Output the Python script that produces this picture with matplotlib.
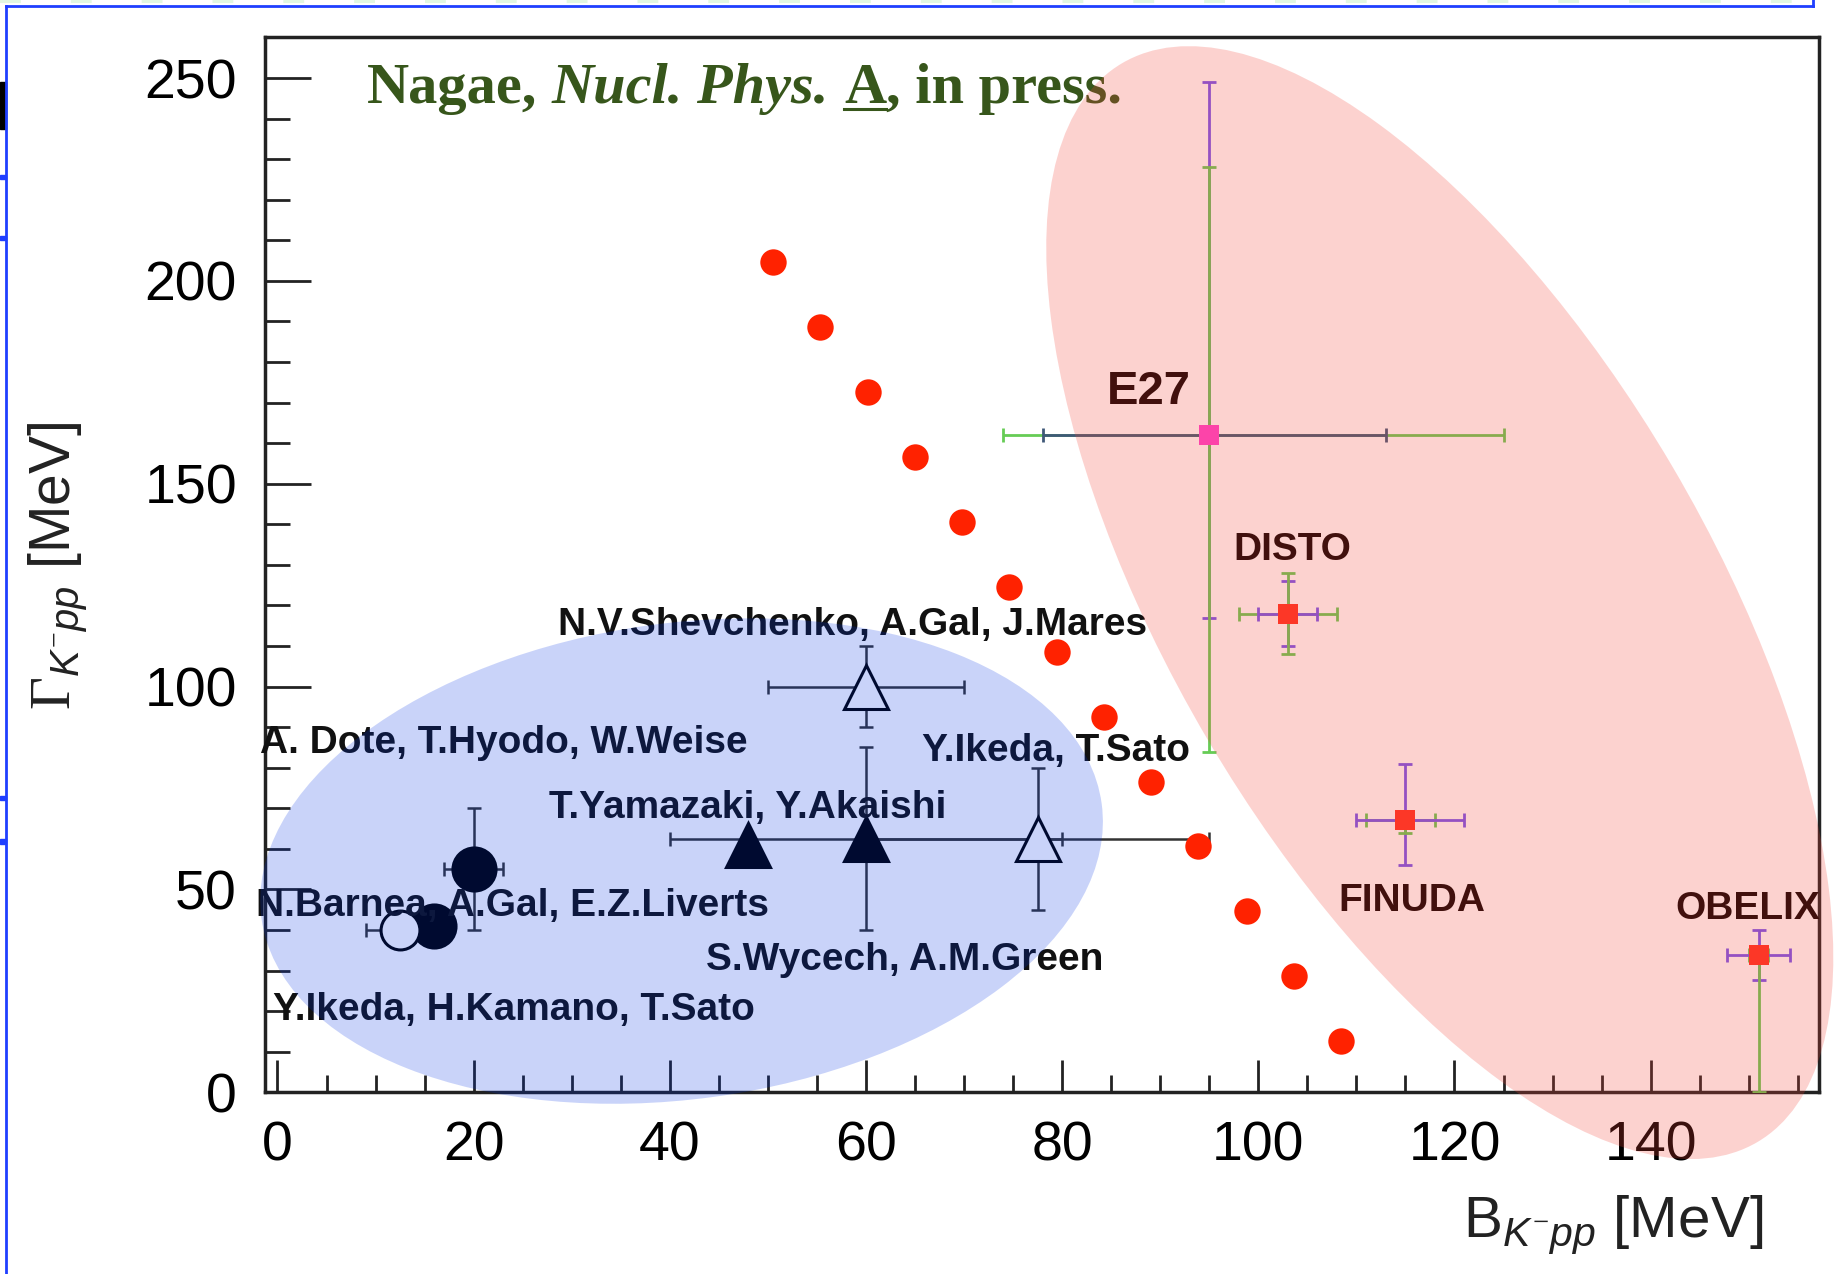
import matplotlib
matplotlib.use('Agg')
import matplotlib.pyplot as plt
from matplotlib.patches import Ellipse, Rectangle
from matplotlib.lines import Line2D
from matplotlib.transforms import Affine2D, IdentityTransform
from matplotlib.ticker import MultipleLocator

plt.rcParams['font.family'] = 'Liberation Sans'
plt.rcParams['mathtext.fontset'] = 'custom'
plt.rcParams['mathtext.rm'] = 'Liberation Serif'
plt.rcParams['mathtext.it'] = 'Liberation Sans:italic'

# red dots running diagonally across the plot
dot_b = [50.5, 55.3, 60.2, 65.0, 69.8, 74.6, 79.5, 84.3, 89.1, 93.9, 98.8, 103.6, 108.4]
dot_g = [204.6, 188.6, 172.6, 156.6, 140.6, 124.6, 108.6, 92.6, 76.6, 60.6, 44.6, 28.6, 12.6]

# theoretical predictions (B, Gamma) with half ranges
th_b = [20, 16, 12.5, 48, 60, 60, 77.5]
th_g = [55, 41, 40, 61, 100, 62.5, 62.5]
th_db = [3, 0, 3.5, 0, 10, 20, 17.5]
th_dg = [15, 0, 0, 0, 10, 22.5, 17.5]
th_marker = ['o', 'o', 'o', '^', '^', '^', '^']
th_filled = [True, True, False, True, False, True, False]
th_size = [31, 31, 28, 31, 31, 31, 31]

th_labels = ['N.V.Shevchenko, A.Gal, J.Mares', 'A. Dote, T.Hyodo, W.Weise',
             'T.Yamazaki, Y.Akaishi', 'Y.Ikeda, T.Sato',
             'N.Barnea, A.Gal, E.Z.Liverts', 'S.Wycech, A.M.Green',
             'Y.Ikeda, H.Kamano, T.Sato']

# experiments: stat and syst errors (low, high)
exp_names = ['E27', 'DISTO', 'FINUDA', 'OBELIX']
exp_b = [95, 103, 115, 151]
exp_g = [162, 118, 67, 33.9]
stat_b_lo = [17, 3, 5, 3.2]
stat_b_hi = [18, 3, 6, 3.2]
stat_g_lo = [45, 8, 11, 6.2]
stat_g_hi = [87, 8, 14, 6.2]
syst_b_lo = [21, 5, 4, 1.0]
syst_b_hi = [30, 5, 3, 1.0]
syst_g_lo = [78, 10, 3, 33.9]
syst_g_hi = [66, 10, 2, 0]
exp_color = ['#ff44cc', '#ff3322', '#ff3322', '#ff3322']
stat_h_color = ['#3f5878', '#7755ee', '#7755ee', '#7755ee']

fig = plt.figure(figsize=(18.37, 12.74), dpi=100)
ax = fig.add_axes([0.1441, 0.1426, 0.8463, 0.828])
ax.set_xlim(-1.3, 157.2)
ax.set_ylim(0, 260)

ax.plot(dot_b, dot_g, 'o', color='#ff2200', ms=19, mew=0, zorder=4)

for i in range(len(th_b)):
    xe = th_db[i] if th_db[i] > 0 else None
    ye = th_dg[i] if th_dg[i] > 0 else None
    if xe is not None or ye is not None:
        ax.errorbar(th_b[i], th_g[i], xerr=xe, yerr=ye, fmt='none', ecolor='#333333',
                    elinewidth=1.8, capsize=5, capthick=1.8, zorder=3)
    ax.plot(th_b[i], th_g[i], marker=th_marker[i], ms=th_size[i], ls='none',
            mfc='black' if th_filled[i] else 'white', mec='black', mew=2.2, zorder=4)

for i in range(len(exp_b)):
    # vertical stat bar under the syst bar, horizontal stat bar above it
    ax.errorbar(exp_b[i], exp_g[i], yerr=[[stat_g_lo[i]], [stat_g_hi[i]]], fmt='none',
                ecolor='#7755ee', elinewidth=2, capsize=5, capthick=2, zorder=3)
    ax.errorbar(exp_b[i], exp_g[i], xerr=[[syst_b_lo[i]], [syst_b_hi[i]]],
                yerr=[[syst_g_lo[i]], [syst_g_hi[i]]], fmt='none', ecolor='#66cc55',
                elinewidth=2, capsize=5, capthick=2, zorder=3.5)
    ax.errorbar(exp_b[i], exp_g[i], xerr=[[stat_b_lo[i]], [stat_b_hi[i]]], fmt='none',
                ecolor=stat_h_color[i], elinewidth=2, capsize=5, capthick=2, zorder=3.7)
    ax.plot(exp_b[i], exp_g[i], 's', color=exp_color[i], ms=15, mew=0, zorder=4)

# labels
th_pos = [(28.6, 112.6), (-1.8, 83.6), (27.7, 67.7), (65.7, 81.6),
          (-2.2, 43.4), (43.7, 30.1), (-0.5, 17.9)]
for lab, (x, y) in zip(th_labels, th_pos):
    ax.text(x, y, lab, fontsize=28, fontweight='bold', color='#111111',
            ha='left', va='baseline', zorder=5)

exp_pos = [(84.6, 169.6), (97.5, 131.1), (108.2, 44.8), (142.5, 42.8)]
exp_fs = [34, 28, 28, 28]
for name, (x, y), fs in zip(exp_names, exp_pos, exp_fs):
    ax.text(x, y, name, fontsize=fs, fontweight='bold', color='#0a0000',
            ha='left', va='baseline', zorder=5)

# axes styling
for sp in ax.spines.values():
    sp.set_linewidth(2.5)
    sp.set_color('#222222')
ax.xaxis.set_major_locator(MultipleLocator(20))
ax.xaxis.set_minor_locator(MultipleLocator(5))
ax.yaxis.set_major_locator(MultipleLocator(50))
ax.yaxis.set_minor_locator(MultipleLocator(10))
ax.tick_params(which='both', direction='in', top=False, right=False, width=2,
               color='#222222', labelsize=40, pad=20)
ax.xaxis.set_tick_params(which='major', length=23)
ax.xaxis.set_tick_params(which='minor', length=12)
ax.yaxis.set_tick_params(which='major', length=33)
ax.yaxis.set_tick_params(which='minor', length=18)

ax.text(-0.133, 0.636, r'$\Gamma_{K^{-}pp}$ [MeV]', rotation=90, ha='center', va='top',
        transform=ax.transAxes, fontsize=41, color='#222222')
ax.text(0.964, -0.0956, r'$\mathregular{B}_{K^{-}pp}$ [MeV]', ha='right', va='top',
        transform=ax.transAxes, fontsize=42, color='#222222')

# shaded regions (drawn in pixel space so the tilt follows the screen)
kx = ax.bbox.width / (157.2 + 1.3)
ky = ax.bbox.height / 260.0
to_data = Affine2D().scale(1 / kx, 1 / ky) + ax.transData
blue = Ellipse((41.2 * kx, 57.0 * ky), 848, 476, angle=7.8, transform=to_data,
               facecolor='#0033e6', alpha=0.21, lw=0, zorder=10, clip_on=False)
pink = Ellipse((118.5 * kx, 120.7 * ky), 1252, 539, angle=-59.5, transform=to_data,
               facecolor='#f4453a', alpha=0.24, lw=0, zorder=10, clip_on=False)
ax.add_patch(blue)
ax.add_patch(pink)

# reference line, built piece by piece
green = '#37561b'
fig.canvas.draw()
renderer = fig.canvas.get_renderer()
fs = 42
x = 367
y = 1274 - 103
space = 0.25 * fs * fig.dpi / 72
parts = [('Nagae,', 'normal', space), ('Nucl. Phys.', 'italic', space),
         ('A', 'normal', 0), (', in press.', 'normal', 0)]
for s, style, gap in parts:
    t = ax.text(x, y, s, transform=IdentityTransform(), fontsize=fs, fontweight='bold',
                fontstyle=style, family='Liberation Serif', color=green,
                ha='left', va='baseline', zorder=5)
    bb = t.get_window_extent(renderer)
    if s == 'A':
        ax.add_line(Line2D([bb.x0, bb.x1], [y - 6, y - 6], transform=IdentityTransform(),
                           color=green, lw=2.2, zorder=5))
    x = bb.x1 + gap

# slide frame
frame = '#1f3fff'
fig.add_artist(Line2D([0.0032, 0.0032], [0, 0.9954], transform=fig.transFigure, color=frame, lw=2))
fig.add_artist(Line2D([0.0032, 0.987], [0.9954, 0.9954], transform=fig.transFigure, color=frame, lw=2))
fig.add_artist(Line2D([0.987, 0.987], [0.9954, 1.0], transform=fig.transFigure, color=frame, lw=2))
fig.add_artist(Line2D([0, 1], [0.999, 0.999], transform=fig.transFigure, color='#e2f7e2',
                      lw=3, dashes=(5, 12)))
fig.add_artist(Rectangle((0, 1 - 110 / 1087), 0.003, 40 / 1087, transform=fig.transFigure,
                         color='black'))
for yy in [153, 205, 683, 720]:
    fig.add_artist(Rectangle((0, 1 - yy / 1087), 0.003, 4 / 1087, transform=fig.transFigure,
                             color=frame))

fig.savefig('out.png', dpi=100)
